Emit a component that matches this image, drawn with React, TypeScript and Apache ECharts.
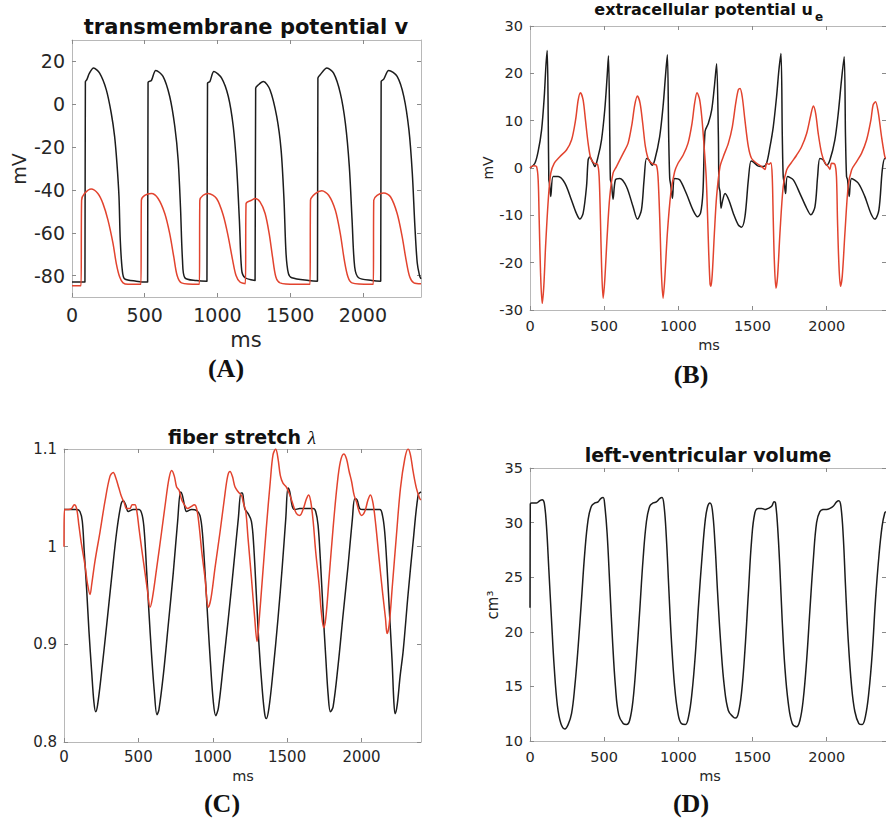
import React, { useEffect, useRef } from 'react';
import * as echarts from 'echarts';

// ---------- data (time in ms, value) ----------
const xTicks = [0, 500, 1000, 1500, 2000];
const vTicks = [-80, -60, -40, -20, 0, 20];
const ueTicks = [-30, -20, -10, 0, 10, 20, 30];
const lamTicks = [0.8, 0.9, 1, 1.1];
const volTicks = [10, 15, 20, 25, 30, 35];

const vBlack: [number, number][] = [
  [0, -83], [89, -83], [92, 10.5], [102, 11.5], [120, 14.5], [148, 16.9], [190, 14.5], [236, 6.7], [270, -4.2], [293, -15], [309, -27.6], [323, -43], [332, -63.5], [346, -77.6], [362, -81.5], [442, -82.6], [520, -83],
  [523, 10.2], [546, 11.1], [576, 15.8], [626, 13], [672, 3.6], [707, -10.4], [730, -26], [746, -48], [760, -73], [776, -81], [856, -82.3], [928, -82.6],
  [932, 9.9], [948, 10.6], [976, 15.3], [1029, 12.2], [1075, 3.6], [1109, -10.4], [1132, -29], [1151, -54], [1167, -77.6], [1190, -81], [1259, -82.3],
  [1263, 7.5], [1282, 9.1], [1316, 10.6], [1362, 6.7], [1408, -5.8], [1438, -21.4], [1458, -44.8], [1472, -69.8], [1488, -79], [1511, -81], [1627, -82.3], [1688, -82.6],
  [1691, 12.2], [1707, 13.8], [1753, 16.9], [1799, 14.5], [1845, 5.2], [1880, -8.9], [1907, -29], [1926, -54], [1944, -76], [1971, -81], [2063, -82.3], [2123, -82.6],
  [2126, 10.6], [2144, 11.7], [2178, 15.8], [2236, 13], [2282, 3.6], [2317, -12], [2340, -32], [2358, -57], [2374, -74], [2390, -80], [2400, -81.5],
];
const vRed: [number, number][] = [
  [0, -84.8], [62, -84.8], [66, -44.8], [86, -41.7], [132, -39.6], [178, -41.7], [213, -46.4], [247, -54], [282, -65], [305, -74.5], [328, -80.7], [351, -83.4], [385, -84.1], [474, -84.1],
  [477, -44.8], [500, -42.5], [546, -41.7], [592, -44], [638, -51], [672, -60.4], [700, -71.3], [723, -80], [753, -83.4], [868, -84.1], [876, -84.1],
  [879, -44.8], [902, -42.5], [937, -41.7], [994, -44], [1040, -51.8], [1075, -62], [1105, -72.9], [1128, -80], [1155, -83], [1192, -83.8],
  [1197, -46.4], [1236, -44.8], [1259, -44], [1293, -45.6], [1328, -51], [1356, -60.4], [1379, -71.3], [1402, -80.7], [1431, -83.4], [1535, -84.1], [1637, -84.1],
  [1640, -44.8], [1673, -41.7], [1718, -40.4], [1765, -42.5], [1811, -49.5], [1845, -60.4], [1873, -72.9], [1898, -80.7], [1925, -83.4], [2052, -84.1], [2072, -84.1],
  [2075, -44.8], [2098, -42.5], [2144, -41.4], [2190, -43.2], [2236, -51], [2271, -62], [2298, -72.9], [2323, -80.7], [2351, -83.4], [2400, -83.8],
];

const ueBlack: [number, number][] = [
  [0, 0], [33, 1], [55, 3.5], [78, 8], [96, 15], [107, 21.4], [116, 24.8], [123, 10], [127, -2.5], [131, -3.2], [140, -6], [156, -1.8], [190, -1.8], [235, -3.2], [280, -6.8], [313, -9.6], [336, -10.8], [358, -9.6], [381, -3.9], [392, 1.7], [403, 2.3], [426, 1], [437, 0.3],
  [459, 2.4], [482, 5.9], [504, 12.3], [520, 19.3], [529, 23.7], [538, 6.6], [542, -2.5], [549, -3.2], [560, -6.6], [576, -2.5], [605, -2.2], [650, -3.9], [695, -8.2], [724, -10.8], [751, -8.9], [769, -2.5], [785, 2], [800, 1.8], [823, 0.6], [841, 1.7],
  [874, 6.6], [897, 13], [913, 19.3], [926, 23.9], [935, 6.6], [942, -2.2], [949, -3.6], [960, -6.4], [975, -2.2], [1009, -2.5], [1054, -5.4], [1099, -8.9], [1130, -10.3], [1150, -9.5], [1166, -5], [1180, 7.7],
  [1202, 9.4], [1225, 12.3], [1243, 17.2], [1258, 22], [1270, 6.6], [1274, -3.9], [1281, -5], [1288, -8.5], [1297, -7.1], [1315, -5.4], [1341, -6.8], [1371, -9.6], [1404, -12], [1426, -12.5], [1449, -10.3], [1472, -2.5], [1490, 1.5], [1505, 1.3], [1539, 0.4], [1573, 0.3], [1595, 1],
  [1618, 4.5], [1640, 8.7], [1662, 15], [1678, 20.7], [1692, 24.2], [1701, 6.6], [1707, -1.8], [1714, -3.2], [1723, -5.4], [1736, -1.8], [1775, -2.5], [1820, -5.4], [1865, -8.5], [1893, -9.9], [1921, -8.2], [1939, -1.8], [1954, 2], [1977, 1.7], [1999, 0.6], [2022, 1.7],
  [2055, 5.9], [2078, 11.5], [2100, 18.6], [2118, 23.5], [2127, 6.6], [2134, -1.8], [2141, -2.5], [2152, -6], [2168, -2.2], [2213, -3.2], [2257, -6], [2298, -9.6], [2325, -10.8], [2352, -8.9], [2375, -0.4], [2392, 2], [2400, 2],
];
const ueRed: [number, number][] = [
  [0, 0], [22, 0.5], [44, 0.3], [55, -2.5], [62, -11], [71, -22], [82, -28.6], [93, -25], [105, -16.6], [123, -6.8], [140, -1.1], [163, 1], [201, 2.4], [246, 3.8], [280, 5.9], [307, 10.1], [325, 14.4], [340, 15.9], [358, 14.4], [374, 10.1], [392, 5.2], [410, 2], [432, 1], [455, 0.8],
  [466, -1.8], [475, -11], [482, -20], [493, -27.5], [504, -23.7], [520, -14.5], [538, -6], [560, -1.1], [583, 0.3], [628, 3.1], [661, 5.2], [688, 9.4], [706, 13.3], [724, 15.2], [742, 13.7], [760, 9.4], [778, 4.5], [800, 1.7], [830, 0.8], [852, 0.6],
  [863, -1.8], [875, -11], [886, -22.3], [897, -27.5], [908, -23.7], [926, -13.8], [949, -5.4], [975, -0.8], [998, 1], [1032, 2.7], [1065, 5.2], [1092, 9.4], [1110, 13.7], [1126, 15.9], [1144, 14.4], [1160, 10.1], [1175, 4],
  [1188, -2], [1197, -10], [1205, -18], [1214, -24.5], [1220, -25], [1229, -22.3], [1243, -13.8], [1258, -6], [1281, 0.3], [1303, 2.4], [1337, 5.2], [1364, 8.7], [1387, 13.7], [1404, 16.5], [1416, 16.8], [1431, 15], [1449, 10.1], [1472, 4.5], [1494, 2], [1528, 1], [1562, 0.3], [1584, -0.3], [1595, 1], [1611, 0.8], [1624, 1.1],
  [1633, -1.8], [1640, -11], [1647, -19.4], [1658, -25.4], [1669, -22.9], [1685, -13.8], [1707, -3.9], [1730, -0.4], [1759, 1], [1797, 2.7], [1831, 4.5], [1865, 7.3], [1893, 11.2], [1910, 13.1], [1926, 11.5], [1943, 7.3], [1966, 3.1], [1988, 1.1], [2010, 0.3], [2022, -0.3], [2033, 1], [2055, 0.8],
  [2066, -1.8], [2073, -11], [2082, -20], [2093, -25], [2105, -22.9], [2123, -13.8], [2145, -3.9], [2168, -0.4], [2201, 1.3], [2235, 3.1], [2269, 5.9], [2298, 10.1], [2313, 13.3], [2329, 14], [2347, 11.9], [2370, 6.6], [2392, 2.4], [2400, 2],
];

const lamBlack: [number, number][] = [
  [0, 1.038], [85, 1.038], [107, 1.036], [123, 1.026], [136, 0.995], [152, 0.957], [168, 0.913], [186, 0.872], [201, 0.841], [213, 0.831], [226, 0.838], [253, 0.872], [287, 0.92], [320, 0.968], [354, 1.015], [383, 1.043], [399, 1.047], [414, 1.043], [432, 1.036], [466, 1.038], [504, 1.038],
  [526, 1.032], [540, 1.015], [556, 0.974], [571, 0.933], [589, 0.889], [607, 0.852], [625, 0.828], [638, 0.833], [668, 0.869], [701, 0.92], [735, 0.974], [764, 1.026], [784, 1.056], [795, 1.053], [809, 1.043], [824, 1.036], [858, 1.038], [892, 1.037],
  [914, 1.032], [930, 1.015], [948, 0.974], [966, 0.927], [984, 0.882], [1004, 0.841], [1020, 0.827], [1038, 0.835], [1071, 0.879], [1105, 0.927], [1139, 0.978], [1172, 1.029], [1190, 1.055], [1199, 1.055], [1215, 1.039], [1237, 1.034], [1260, 1.026],
  [1275, 1.002], [1293, 0.951], [1311, 0.899], [1332, 0.855], [1349, 0.829], [1360, 0.824], [1378, 0.835], [1405, 0.872], [1439, 0.927], [1468, 0.981], [1491, 1.029], [1506, 1.06], [1518, 1.056], [1535, 1.041], [1551, 1.038], [1585, 1.039], [1675, 1.039],
  [1692, 1.036], [1708, 1.022], [1724, 0.985], [1742, 0.933], [1760, 0.886], [1776, 0.848], [1791, 0.831], [1809, 0.836], [1843, 0.879], [1876, 0.93], [1910, 0.981], [1939, 1.029], [1955, 1.049], [1970, 1.048], [1988, 1.039], [2011, 1.038], [2123, 1.038],
  [2141, 1.032], [2156, 1.015], [2172, 0.978], [2190, 0.927], [2206, 0.882], [2218, 0.84], [2226, 0.829], [2240, 0.838], [2260, 0.868], [2280, 0.893], [2313, 0.951], [2347, 1.005], [2381, 1.053], [2400, 1.056],
];
const lamRed: [number, number][] = [
  [0, 1.0], [3, 1.038], [29, 1.038], [51, 1.039], [69, 1.043], [85, 1.039], [100, 1.022], [118, 1.002], [141, 0.981], [159, 0.961], [175, 0.951], [186, 0.961], [208, 0.985], [242, 1.015], [275, 1.046], [309, 1.072], [331, 1.076], [349, 1.07], [369, 1.06], [387, 1.051], [405, 1.045], [421, 1.039], [443, 1.039], [459, 1.043], [477, 1.043],
  [490, 1.036], [504, 1.019], [522, 0.998], [544, 0.974], [562, 0.954], [578, 0.938], [594, 0.947], [623, 0.978], [656, 1.015], [683, 1.046], [706, 1.07], [724, 1.078], [742, 1.072], [757, 1.061], [773, 1.058], [791, 1.048], [809, 1.043], [831, 1.039], [854, 1.041], [876, 1.043],
  [892, 1.039], [908, 1.022], [926, 0.995], [948, 0.968], [970, 0.938], [988, 0.947], [1015, 0.978], [1049, 1.015], [1078, 1.049], [1100, 1.072], [1116, 1.077], [1132, 1.072], [1150, 1.061], [1172, 1.056], [1195, 1.052],
  [1204, 1.046], [1222, 1.036], [1237, 1.009], [1260, 0.968], [1282, 0.927], [1298, 0.903], [1311, 0.923], [1334, 0.968], [1360, 1.019], [1387, 1.067], [1405, 1.094], [1423, 1.1], [1439, 1.09], [1454, 1.073], [1472, 1.065], [1495, 1.061], [1518, 1.053], [1540, 1.043], [1562, 1.034], [1585, 1.032], [1607, 1.038], [1630, 1.049], [1645, 1.053],
  [1659, 1.046], [1675, 1.026], [1692, 0.995], [1715, 0.961], [1730, 0.933], [1746, 0.917], [1760, 0.927], [1782, 0.968], [1809, 1.019], [1836, 1.063], [1858, 1.087], [1881, 1.095], [1899, 1.09], [1917, 1.077], [1933, 1.067], [1950, 1.053], [1966, 1.046], [1984, 1.036], [2000, 1.032], [2022, 1.036], [2044, 1.048], [2060, 1.053],
  [2078, 1.044], [2096, 1.022], [2118, 0.988], [2141, 0.954], [2161, 0.927], [2172, 0.911], [2186, 0.92], [2208, 0.961], [2235, 1.012], [2262, 1.06], [2291, 1.09], [2313, 1.1], [2329, 1.094], [2347, 1.077], [2369, 1.06], [2392, 1.049], [2400, 1.048],
];

const lvVolume: [number, number][] = [
  [0, 22.2], [2, 31.7], [10, 31.8], [44, 31.8], [66, 32.0], [82, 32.1], [96, 31.8], [111, 29.7], [127, 25.7], [145, 21.1], [163, 16.8], [185, 13.2], [208, 11.6], [235, 11.1], [257, 11.5], [280, 12.5], [302, 15.0], [325, 18.7], [347, 22.9], [369, 27.2], [392, 30.3], [414, 31.5], [437, 31.8], [459, 31.9], [477, 32.2], [493, 32.3],
  [504, 31.6], [520, 29.0], [538, 24.2], [556, 19.3], [576, 15.0], [598, 12.4], [628, 11.6], [650, 11.5], [672, 11.9], [695, 13.8], [717, 17.4], [740, 22.0], [762, 26.6], [785, 30.1], [807, 31.5], [830, 31.8], [852, 31.9], [874, 32.2], [890, 32.3],
  [904, 31.5], [919, 28.7], [935, 24.2], [953, 19.3], [975, 15.0], [998, 12.5], [1020, 11.6], [1047, 11.5], [1070, 12.3], [1092, 14.4], [1115, 18.0], [1137, 22.6], [1160, 26.9], [1182, 30.3], [1198, 31.5], [1213, 31.8],
  [1229, 31.2], [1247, 28.1], [1265, 23.5], [1287, 18.7], [1310, 15.0], [1337, 12.8], [1370, 12.2], [1386, 12.1], [1404, 12.5], [1426, 14.4], [1449, 18.3], [1472, 23.5], [1494, 28.4], [1516, 30.9], [1539, 31.3], [1561, 31.3], [1584, 31.2], [1606, 31.3], [1629, 31.5], [1646, 31.9],
  [1655, 31.8], [1669, 29.7], [1685, 25.7], [1700, 21.1], [1718, 16.8], [1741, 13.5], [1768, 11.6], [1797, 11.3], [1820, 11.9], [1842, 13.8], [1865, 17.4], [1887, 22.0], [1910, 26.6], [1932, 30.0], [1954, 31.0], [1977, 31.2], [1999, 31.2], [2022, 31.3], [2044, 31.5], [2067, 31.9], [2082, 32.0],
  [2096, 31.5], [2112, 28.7], [2127, 24.2], [2145, 19.3], [2168, 15.0], [2190, 12.7], [2217, 11.6], [2239, 11.5], [2262, 12.3], [2284, 14.4], [2307, 18.0], [2329, 22.9], [2352, 26.9], [2374, 29.7], [2392, 30.9], [2400, 31.0],
];

// ---------- styling ----------
const FRAME = '#b8b8b8';
const TICK = '#8a8a8a';
const LABEL = '#262626';
const SANS = '"DejaVu Sans", sans-serif';
const SERIF = '"Liberation Serif", "DejaVu Serif", serif';
const BLACK = '#1c1c1c';
const RED = '#e2432e';

const grids = [
  { left: 72, top: 40, width: 349, height: 257 },
  { left: 530, top: 26, width: 356, height: 284 },
  { left: 64, top: 449, width: 357, height: 293 },
  { left: 530, top: 468, width: 356, height: 273 },
];

const plain = (v: number) => String(v);

function xAxesFor(gridIndex: number, fontSize: number, margin: number) {
  const common = {
    type: 'value', gridIndex, min: 0, max: 2400,
    axisLine: { show: true, onZero: false, lineStyle: { color: FRAME, width: 1 } },
    axisTick: { show: true, inside: true, length: 4, customValues: xTicks, lineStyle: { color: TICK } },
    splitLine: { show: false },
  };
  return [
    { ...common, position: 'bottom', axisLabel: { show: true, customValues: xTicks, formatter: plain, color: LABEL, fontSize, fontFamily: SANS, margin } },
    { ...common, position: 'top', axisLabel: { show: false } },
  ];
}

function yAxesFor(gridIndex: number, min: number, max: number, ticks: number[], fontSize: number, margin: number) {
  const common = {
    type: 'value', gridIndex, min, max,
    axisLine: { show: true, onZero: false, lineStyle: { color: FRAME, width: 1 } },
    axisTick: { show: true, inside: true, length: 4, customValues: ticks, lineStyle: { color: TICK } },
    splitLine: { show: false },
  };
  return [
    { ...common, position: 'left', axisLabel: { show: true, customValues: ticks, formatter: plain, color: LABEL, fontSize, fontFamily: SANS, margin } },
    { ...common, position: 'right', axisLabel: { show: false } },
  ];
}

function txt(x: number, y: number, text: string, fontSize: number, o: any = {}) {
  return {
    type: 'text', x, y, rotation: o.rot || 0, silent: true,
    style: {
      text, fontSize, fontFamily: o.serif ? SERIF : SANS, fontWeight: o.bold ? 'bold' : 'normal',
      fill: o.fill || '#111', textAlign: o.align || 'center', textVerticalAlign: 'middle',
      rich: o.rich,
    },
  };
}

function lineSeries(data: [number, number][], color: string, axisIdx: number, smooth: number) {
  return {
    type: 'line', data, xAxisIndex: axisIdx * 2, yAxisIndex: axisIdx * 2,
    showSymbol: false, symbol: 'none', smooth,
    lineStyle: { color, width: 1.5 }, clip: true, silent: true,
  };
}

const option: any = {
  animation: false,
  backgroundColor: '#ffffff',
  grid: grids,
  xAxis: [
    ...xAxesFor(0, 19, 8),
    ...xAxesFor(1, 14.5, 8),
    ...xAxesFor(2, 15, 7),
    ...xAxesFor(3, 14.5, 8),
  ],
  yAxis: [
    ...yAxesFor(0, -90, 30, vTicks, 19, 7),
    ...yAxesFor(1, -30, 30, ueTicks, 14.5, 7),
    ...yAxesFor(2, 0.8, 1.1, lamTicks, 15, 7),
    ...yAxesFor(3, 10, 35, volTicks, 14.5, 7),
  ],
  series: [
    lineSeries(vBlack, BLACK, 0, 0.3),
    lineSeries(vRed, RED, 0, 0.3),
    lineSeries(ueBlack, BLACK, 1, 0.3),
    lineSeries(ueRed, RED, 1, 0.3),
    lineSeries(lamBlack, BLACK, 2, 0.35),
    lineSeries(lamRed, RED, 2, 0.35),
    lineSeries(lvVolume, BLACK, 3, 0.4),
  ],
  graphic: [
    // titles
    txt(246, 27, 'transmembrane potential v', 21, { bold: true }),
    txt(813, 9, 'extracellular potential u', 16, { bold: true, align: 'right' }),
    txt(815, 17, 'e', 12, { bold: true, align: 'left' }),
    txt(242, 437, '{a|fiber stretch }{b|λ}', 19, {
      bold: true,
      rich: {
        a: { fontSize: 19, fontWeight: 'bold', fontFamily: SANS, fill: '#111' },
        b: { fontSize: 19, fontStyle: 'italic', fontFamily: SERIF, fill: '#111' },
      },
    }),
    txt(708, 455, 'left-ventricular volume', 19, { bold: true }),
    // axis names
    txt(246, 340, 'ms', 21, { fill: LABEL }),
    txt(19, 169, 'mV', 19, { fill: LABEL, rot: Math.PI / 2 }),
    txt(709, 345, 'ms', 14.5, { fill: LABEL }),
    txt(488, 168, 'mV', 14, { fill: LABEL, rot: Math.PI / 2 }),
    txt(243, 776, 'ms', 14.5, { fill: LABEL }),
    txt(710, 776, 'ms', 14.5, { fill: LABEL }),
    txt(493, 605, 'cm³', 15, { fill: LABEL, rot: Math.PI / 2 }),
    // panel labels
    txt(226, 368, '(A)', 26, { bold: true, serif: true, fill: '#111' }),
    txt(691, 374, '(B)', 26, { bold: true, serif: true, fill: '#111' }),
    txt(222, 803, '(C)', 26, { bold: true, serif: true, fill: '#111' }),
    txt(691, 803, '(D)', 26, { bold: true, serif: true, fill: '#111' }),
  ],
};

export default function App() {
  const ref = useRef<HTMLDivElement>(null);
  useEffect(() => {
    if (!ref.current) return;
    const chart = echarts.init(ref.current, null, { renderer: 'svg' });
    chart.setOption(option);
    return () => chart.dispose();
  }, []);
  return (
    <div
      ref={ref}
      style={{ position: 'fixed', left: 0, top: 0, width: 886, height: 821, background: '#fff' }}
    />
  );
}
